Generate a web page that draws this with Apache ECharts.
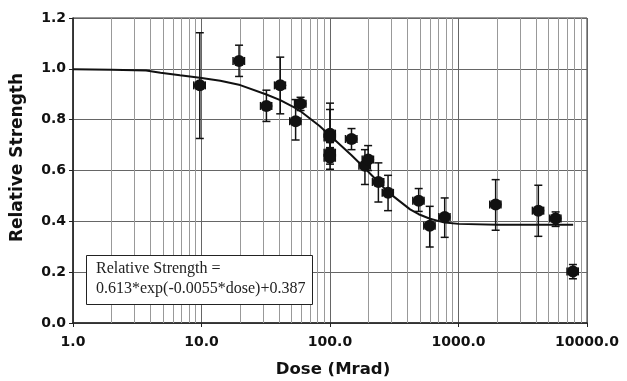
<!DOCTYPE html>
<html>
<head>
<meta charset="utf-8">
<script src="https://cdn.jsdelivr.net/npm/echarts@6/dist/echarts.min.js"></script>
<style>html,body{margin:0;padding:0;background:#fff;}#c{width:627px;height:381px;}</style>
</head>
<body>
<div id="c"></div>
<script>
// Measured data points (dose in Mrad, relative strength)
var dose     = [9.7, 19.6, 32, 41, 54, 59, 100, 100, 100, 100, 147, 187, 198, 238, 283, 490, 597, 781, 1946, 4180, 5700, 7770];
var strength = [0.935, 1.031, 0.854, 0.935, 0.794, 0.863, 0.745, 0.73, 0.67, 0.65, 0.724, 0.619, 0.643, 0.555, 0.512, 0.481, 0.383, 0.417, 0.466, 0.442, 0.411, 0.203];
var yLow     = [0.726, 0.970, 0.793, 0.823, 0.720, 0.836, 0.66, 0.67, 0.625, 0.605, 0.682, 0.545, 0.60, 0.476, 0.442, 0.439, 0.299, 0.337, 0.365, 0.341, 0.380, 0.174];
var yHigh    = [1.142, 1.093, 0.916, 1.046, 0.879, 0.888, 0.865, 0.84, 0.71, 0.69, 0.765, 0.682, 0.698, 0.630, 0.581, 0.529, 0.459, 0.492, 0.564, 0.542, 0.437, 0.230];
var xLow     = [8.7, 17.6, 28.8, 37, 48.6, 53, 90, 90, 90, 90, 132, 168, 178, 214, 255, 441, 537, 703, 1750, 3760, 5130, 6990];
var xHigh    = [10.7, 21.6, 35.2, 45, 59.4, 65, 110, 110, 110, 110, 162, 206, 218, 262, 311, 539, 657, 859, 2140, 4600, 6270, 8550];

// Fitted curve
var curveDose = [1, 2, 3.7, 4.8, 6.8, 9.7, 14, 20, 32, 41, 54, 59, 83, 100, 147, 190, 240, 283, 420, 490, 600, 780, 1000, 2000, 4200, 5700, 7800];
var curveVal  = [0.998, 0.996, 0.993, 0.985, 0.975, 0.965, 0.953, 0.936, 0.899, 0.877, 0.845, 0.833, 0.775, 0.738, 0.66, 0.605, 0.553, 0.515, 0.447, 0.428, 0.410, 0.395, 0.39, 0.387, 0.387, 0.387, 0.387];

// Minor vertical grid positions (log axis)
var minorGrid = [2,3,4,5,6,7,8,9, 20,30,40,50,60,70,80,90, 200,300,400,500,600,700,800,900, 2000,3000,4000,5000,6000,7000,8000,9000];

var xTitle = 'Dose (Mrad)';
var yTitle = 'Relative Strength';
var noteLines = ['Relative Strength =', '0.613*exp(-0.0055*dose)+0.387'];

var SANS = 'DejaVu Sans';
var chart = echarts.init(document.getElementById('c'), null, {renderer: 'canvas'});

var errData = dose.map(function (d, i) { return [d, strength[i], yLow[i], yHigh[i], xLow[i], xHigh[i]]; });
var ptData = dose.map(function (d, i) { return [d, strength[i]]; });
var curveData = curveDose.map(function (d, i) { return [d, curveVal[i]]; });

chart.setOption({
  animation: false,
  grid: {left: 73, right: 40, top: 18, bottom: 58, show: true, borderColor: '#333', borderWidth: 1,
    backgroundColor: 'transparent', containLabel: false, outerBoundsMode: 'none'},
  xAxis: {
    type: 'log', logBase: 10, min: 1, max: 10000,
    name: xTitle, nameLocation: 'middle', nameGap: 38,
    nameTextStyle: {fontFamily: SANS, fontWeight: 'bold', fontSize: 16.5, color: '#111', padding: [0, 0, 0, 6]},
    axisLine: {lineStyle: {color: '#222', width: 1.5}},
    axisTick: {show: true, length: 4, lineStyle: {color: '#222'}},
    axisLabel: {fontFamily: SANS, fontWeight: 'bold', fontSize: 14, color: '#111', margin: 12,
      formatter: function (v) { return Number(v).toFixed(1); }},
    splitLine: {show: true, lineStyle: {color: '#666', width: 1}}
  },
  yAxis: {
    type: 'value', min: 0, max: 1.2, interval: 0.2,
    name: yTitle, nameLocation: 'middle', nameGap: 47,
    nameTextStyle: {fontFamily: SANS, fontWeight: 'bold', fontSize: 17, color: '#111', padding: [0, 0, 0, 26]},
    axisLine: {show: true, lineStyle: {color: '#222', width: 1.5}},
    axisTick: {show: true, length: 4, lineStyle: {color: '#222'}},
    axisLabel: {fontFamily: SANS, fontWeight: 'bold', fontSize: 14, color: '#111', margin: 7,
      formatter: function (v) { return Number(v).toFixed(1); }},
    splitLine: {show: true, lineStyle: {color: '#666', width: 1}}
  },
  series: [
    {
      type: 'line', data: curveData, smooth: false, symbol: 'none', z: 3,
      lineStyle: {color: '#111', width: 2},
      markLine: {
        silent: true, symbol: 'none', label: {show: false},
        lineStyle: {color: '#999', width: 1, type: 'solid'},
        data: minorGrid.map(function (v) { return {xAxis: v}; }),
        z: 1
      }
    },
    {
      type: 'custom', z: 4,
      data: errData,
      renderItem: function (params, api) {
        var c = api.coord([api.value(0), api.value(1)]);
        var lo = api.coord([api.value(0), api.value(2)]);
        var hi = api.coord([api.value(0), api.value(3)]);
        var xl = api.coord([api.value(4), api.value(1)]);
        var xh = api.coord([api.value(5), api.value(1)]);
        var cap = 4;
        var st = {stroke: '#111', lineWidth: 1.5};
        var L = function (x1, y1, x2, y2) { return {type: 'line', shape: {x1: x1, y1: y1, x2: x2, y2: y2}, style: st}; };
        return {type: 'group', children: [
          L(c[0], lo[1], c[0], hi[1]),
          L(c[0] - cap, lo[1], c[0] + cap, lo[1]),
          L(c[0] - cap, hi[1], c[0] + cap, hi[1]),
          L(xl[0], c[1], xh[0], c[1]),
          L(xl[0], c[1] - cap, xl[0], c[1] + cap),
          L(xh[0], c[1] - cap, xh[0], c[1] + cap)
        ]};
      }
    },
    {
      type: 'scatter', data: ptData, symbol: 'circle', symbolSize: 12, z: 5,
      itemStyle: {color: '#111', opacity: 1}
    }
  ],
  graphic: [
    {type: 'rect', left: 86, top: 255, z: 10,
      shape: {width: 226, height: 49},
      style: {fill: '#fff', stroke: '#222', lineWidth: 1}},
    {type: 'text', left: 96, top: 259, z: 11,
      style: {text: noteLines.join('\n'), font: '16px "Liberation Serif"', fill: '#222', lineHeight: 20}}
  ]
});
</script>
</body>
</html>
